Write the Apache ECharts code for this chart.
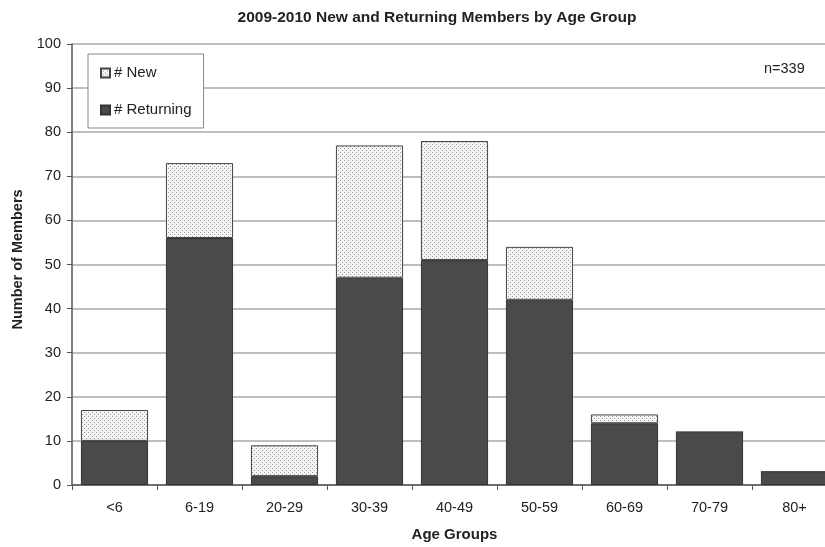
<!DOCTYPE html>
<html>
<head>
<meta charset="utf-8">
<script src="https://cdn.jsdelivr.net/npm/echarts@6/dist/echarts.min.js"></script>
<style>
html, body { margin: 0; padding: 0; background: #fff; overflow: hidden; }
/* the plot runs slightly past the right edge of the window */
#chart { width: 840px; height: 547px; }
</style>
</head>
<body>
<div id="chart"></div>
<script>
// Age groups and member counts for 2009-2010
const ageGroups = ['<6', '6-19', '20-29', '30-39', '40-49', '50-59', '60-69', '70-79', '80+'];
const returningMembers = [10, 56, 2, 47, 51, 42, 14, 12, 3];
const newMembers = [7, 17, 7, 30, 27, 12, 2, 0, 0];
const yTicks = [0, 10, 20, 30, 40, 50, 60, 70, 80, 90, 100];

// Small dotted tile used as the fill for new members
function dotPattern() {
  const c = document.createElement('canvas');
  c.width = 4; c.height = 4;
  const g = c.getContext('2d');
  g.fillStyle = '#f4f4f4';
  g.fillRect(0, 0, 4, 4);
  g.fillStyle = '#9a9a9a';
  g.fillRect(0, 0, 1, 1);
  g.fillRect(2, 2, 1, 1);
  return c;
}
const dots = { image: dotPattern(), repeat: 'repeat' };

const font = 'Liberation Sans, Arial, sans-serif';
const chart = echarts.init(document.getElementById('chart'), null, { renderer: 'canvas' });

chart.setOption({
  animation: false,
  backgroundColor: '#fff',
  title: {
    text: '2009-2010 New and Returning Members by Age Group',
    left: 432, top: 5, textAlign: 'center',
    textStyle: { fontFamily: font, fontSize: 15.5, fontWeight: 'bold', color: '#222' }
  },
  grid: { left: 72, right: 3, top: 44, height: 442, containLabel: false },
  legend: {
    orient: 'vertical',
    left: 88, top: 54,
    padding: [11, 12, 10, 12],
    itemGap: 21,
    itemWidth: 9, itemHeight: 9,
    borderColor: '#888', borderWidth: 1,
    backgroundColor: '#fff',
    icon: 'rect',
    textStyle: { fontFamily: font, fontSize: 15, lineHeight: 16, color: '#222', padding: [0, 0, 0, -1] },
    data: ['# New', '# Returning']
  },
  graphic: [{
    type: 'text', left: 764, top: 61,
    style: { text: 'n=339', font: '14.5px ' + font, fill: '#222' }
  }],
  xAxis: {
    type: 'category',
    data: ageGroups,
    name: 'Age Groups',
    nameLocation: 'middle',
    nameGap: 42,
    nameTextStyle: { fontFamily: font, fontSize: 15, fontWeight: 'bold', color: '#222' },
    axisLine: { lineStyle: { color: '#555', width: 1.5 } },
    axisTick: { show: true, length: 5, inside: false, lineStyle: { color: '#555' } },
    axisLabel: { fontFamily: font, fontSize: 14.5, color: '#222', margin: 15 }
  },
  yAxis: {
    type: 'value',
    min: 0, max: 100, interval: 10,
    name: 'Number of Members',
    nameLocation: 'middle',
    nameGap: 40,
    nameTextStyle: { fontFamily: font, fontSize: 14.5, fontWeight: 'bold', color: '#222', padding: [0, 0, 0, 10] },
    axisLine: { show: true, lineStyle: { color: '#555', width: 1.5 } },
    axisTick: { show: true, length: 5, lineStyle: { color: '#555' } },
    axisLabel: {
      fontFamily: font, fontSize: 14.5, color: '#222', margin: 11,
      formatter: v => (yTicks.includes(v) ? String(v) : '')
    },
    splitLine: { show: true, lineStyle: { color: '#aaa', width: 1.5 } }
  },
  series: [
    {
      name: '# Returning',
      type: 'bar',
      stack: 'members',
      data: returningMembers,
      barCategoryGap: '21%',
      itemStyle: { color: '#4a4a4a', borderColor: '#333', borderWidth: 1 }
    },
    {
      name: '# New',
      type: 'bar',
      stack: 'members',
      data: newMembers,
      itemStyle: { color: dots, borderColor: '#444', borderWidth: 1 }
    }
  ]
});
</script>
</body>
</html>
